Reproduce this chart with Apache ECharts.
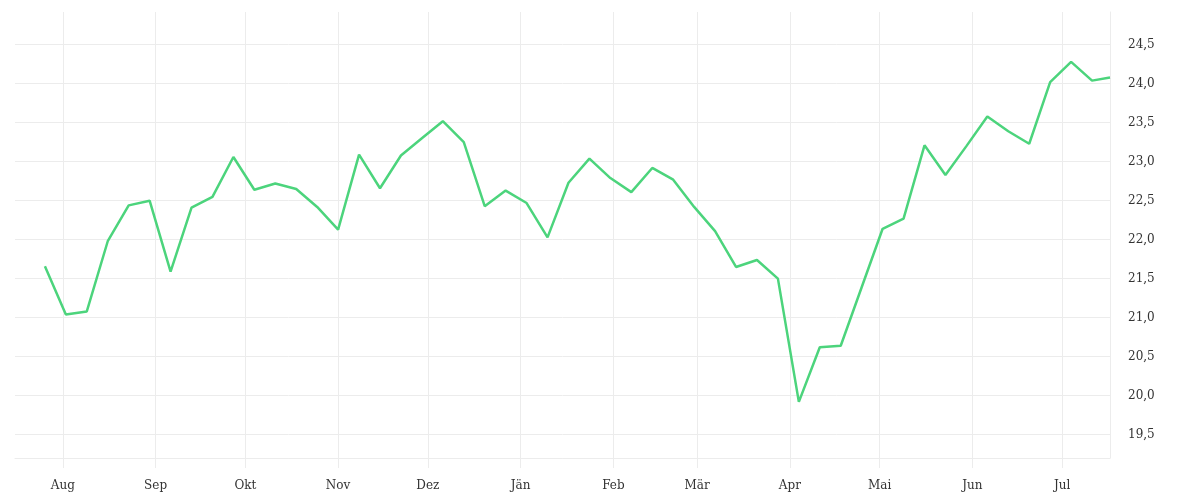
<!DOCTYPE html>
<html>
<head>
<meta charset="utf-8">
<script src="https://cdn.jsdelivr.net/npm/echarts@6/dist/echarts.min.js"></script>
<style>
  html, body { margin: 0; padding: 0; background: #fff; }
  #chart { width: 1200px; height: 500px; }
</style>
</head>
<body>
<div id="chart"></div>
<script>
// weekly values
const dates = [
  '2018-07-26', '2018-08-02', '2018-08-09', '2018-08-16', '2018-08-23', '2018-08-30',
  '2018-09-06', '2018-09-13', '2018-09-20', '2018-09-27',
  '2018-10-04', '2018-10-11', '2018-10-18', '2018-10-25',
  '2018-11-01', '2018-11-08', '2018-11-15', '2018-11-22', '2018-11-29',
  '2018-12-06', '2018-12-13', '2018-12-20', '2018-12-27',
  '2019-01-03', '2019-01-10', '2019-01-17', '2019-01-24', '2019-01-31',
  '2019-02-07', '2019-02-14', '2019-02-21', '2019-02-28',
  '2019-03-07', '2019-03-14', '2019-03-21', '2019-03-28',
  '2019-04-04', '2019-04-11', '2019-04-18', '2019-04-25',
  '2019-05-02', '2019-05-09', '2019-05-16', '2019-05-23', '2019-05-30',
  '2019-06-06', '2019-06-13', '2019-06-20', '2019-06-27',
  '2019-07-04', '2019-07-11', '2019-07-17'
];
const values = [
  21.66, 21.04, 21.08, 21.98, 22.44, 22.50, 21.59, 22.41, 22.55, 23.06,
  22.64, 22.72, 22.65, 22.42, 22.13, 23.09, 22.66, 23.08, 23.30, 23.52,
  23.25, 22.43, 22.63, 22.47, 22.03, 22.73, 23.04, 22.79, 22.61, 22.92,
  22.77, 22.42, 22.11, 21.65, 21.74, 21.50, 19.92, 20.62, 20.64, 21.39,
  22.14, 22.27, 23.21, 22.83, 23.20, 23.58, 23.39, 23.23, 24.02, 24.28,
  24.04, 24.08
];
const monthLabels = ['Jän', 'Feb', 'Mär', 'Apr', 'Mai', 'Jun', 'Jul', 'Aug', 'Sep', 'Okt', 'Nov', 'Dez'];
const xRange = ['2018-07-16', '2019-07-17'];
const yRange = [19.2, 24.92];

const gridColor = '#ececec';
const textStyle = { color: '#333', fontFamily: 'DejaVu Serif', fontSize: 12 };

const chart = echarts.init(document.getElementById('chart'));
chart.setOption({
  animation: false,
  grid: { left: 15, right: 90, top: 12, bottom: 42 },
  xAxis: {
    type: 'time',
    min: xRange[0],
    max: xRange[1],
    splitNumber: 12,
    minInterval: 28 * 864e5,
    maxInterval: 31 * 864e5,
    axisLine: { show: true, lineStyle: { color: gridColor } },
    axisTick: { show: true, length: 10, lineStyle: { color: gridColor } },
    splitLine: { show: true, showMinLine: false, lineStyle: { color: gridColor } },
    axisLabel: {
      ...textStyle,
      margin: 22,
      showMinLabel: false,
      showMaxLabel: false,
      formatter: (v) => monthLabels[new Date(v).getMonth()]
    }
  },
  yAxis: {
    type: 'value',
    position: 'right',
    min: yRange[0],
    max: yRange[1],
    splitNumber: 11,
    axisLine: { show: true, lineStyle: { color: gridColor } },
    axisTick: { show: false },
    splitLine: { show: true, showMaxLine: false, lineStyle: { color: gridColor } },
    axisLabel: {
      ...textStyle,
      margin: 18,
      padding: [5, 0, 0, 0],
      showMinLabel: false,
      showMaxLabel: false,
      formatter: (v) => v.toFixed(1).replace('.', ',')
    }
  },
  series: [
    {
      type: 'line',
      data: dates.map((d, i) => [d, values[i]]),
      showSymbol: false,
      lineStyle: { color: '#4cd47c', width: 2.5 },
      itemStyle: { color: '#4cd47c' }
    }
  ]
});
</script>
</body>
</html>
